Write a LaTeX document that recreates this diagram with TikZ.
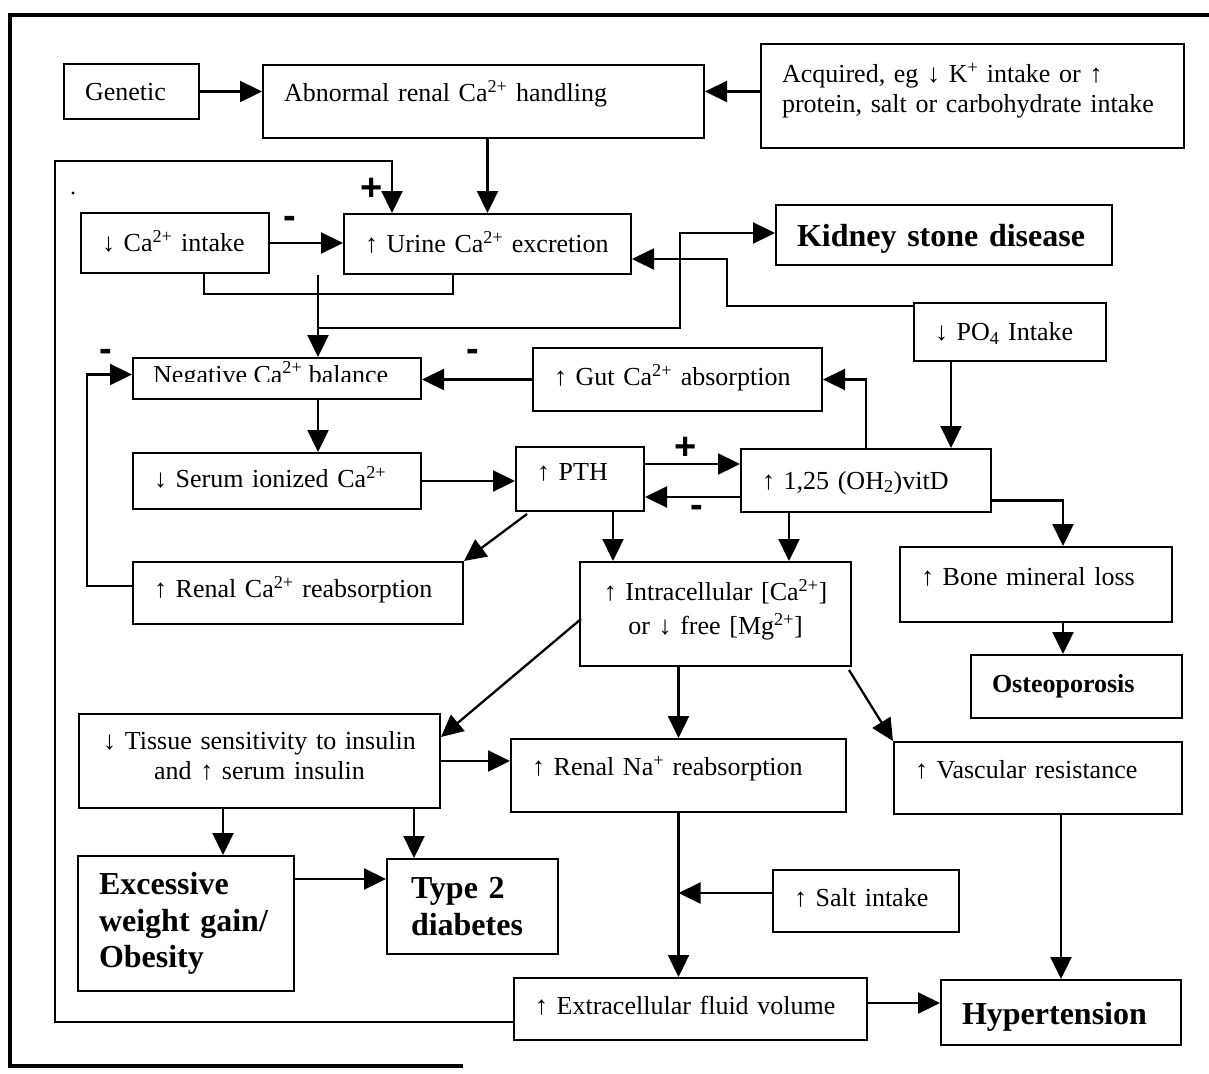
\documentclass[tikz,border=0pt]{standalone}
\usepackage{fontspec}
\setmainfont{Liberation Serif}
\setsansfont{Liberation Sans}
\usetikzlibrary{arrows.meta,calc}
\newcommand{\normtxt}{\fontsize{26}{30}\selectfont}
\newcommand{\bigtxt}{\fontsize{32}{36.5}\selectfont\bfseries}
\newcommand{\osttxt}{\fontsize{26}{30}\selectfont\bfseries}
\newcommand{\signtxt}{\fontsize{38}{38}\selectfont\sffamily\bfseries}
\newcommand{\lowpad}[1]{\rule[-#1]{0pt}{#1}}
\tikzset{
  box/.style={draw, line width=2pt, anchor=north west, inner xsep=21pt, inner ysep=0pt, align=left, font=\normtxt},
  one/.style={text height=22pt, text depth=#1},
  one/.default=5pt,
  big/.style={font=\bigtxt, text height=29pt, text depth=6pt},
  ln/.style={line width=2.3pt},
  arr/.style={line width=2.3pt, -{Triangle[length=22pt,width=21pt]}},
  sign/.style={font=\signtxt, inner sep=0pt}
}
\begin{document}
\begin{tikzpicture}[x=1pt,y=1pt,yscale=-1,xscale=1]
		\useasboundingbox (0,0) rectangle (1209,1073);
		%Shape: Frame
		\draw [line width=4.5pt] (1209,15) -- (10,15) -- (10,1066) -- (463,1066) ;
		%Shape: Dot
		\fill (73,193) circle (1.6) ;

		%Shape: Rectangle
		\node [box, one, text width=93pt, minimum height=55pt] (genetic) at (63,63) {Genetic};
		%Shape: Rectangle
		\node [box, one=22pt, text width=399pt, minimum height=73pt] (abnormal) at (262,64) {Abnormal renal Ca\textsuperscript{2+} handling};
		%Shape: Rectangle
		\node [box, text width=381pt, minimum height=104pt] (acquired) at (760,43) {Acquired, eg ↓ K\textsuperscript{+} intake or ↑\\protein, salt or carbohydrate intake\lowpad{16pt}};
		%Shape: Rectangle
		\node [box, one, text width=146pt, minimum height=60pt] (caintake) at (80,212) {\mbox{↓ Ca\textsuperscript{2+} intake}};
		%Shape: Rectangle
		\node [box, one, text width=245pt, minimum height=60pt] (urine) at (343,213) {\mbox{↑ Urine Ca\textsuperscript{2+} excretion}};
		%Shape: Rectangle
		\node [box, big, text width=294pt, minimum height=60pt] (kidney) at (775,204) {Kidney stone disease};
		%Shape: Rectangle
		\node [box, one, text width=150pt, minimum height=58pt] (po4) at (913,302) {↓ PO\textsubscript{4} Intake};
		%Shape: Rectangle
		\node [box, text width=246pt, minimum height=41pt] (negative) at (132,357) {};
		%Shape: Rectangle
		\node [box, one=10pt, text width=247pt, minimum height=63pt] (gut) at (532,347) {↑ Gut Ca\textsuperscript{2+} absorption};
		%Shape: Rectangle
		\node [box, one=9pt, text width=246pt, minimum height=56pt] (serum) at (132,452) {↓ Serum ionized Ca\textsuperscript{2+}};
		%Shape: Rectangle
		\node [box, one=19pt, text width=86pt, minimum height=64pt] (pth) at (515,446) {↑ PTH};
		%Shape: Rectangle
		\node [box, one, text width=208pt, minimum height=63pt] (vitd) at (740,448) {↑ 1,25 (OH\textsubscript{2})vitD};
		%Shape: Rectangle
		\node [box, one=13pt, text width=288pt, minimum height=62pt] (renalca) at (132,561) {↑ Renal Ca\textsuperscript{2+} reabsorption};
		%Shape: Rectangle
		\node [box, align=center, text width=229pt, minimum height=104pt] (intra) at (579,561) {↑ Intracellular [Ca\textsuperscript{2+}]\\[4pt]or ↓ free [Mg\textsuperscript{2+}]\lowpad{14pt}};
		%Shape: Rectangle
		\node [box, one=20pt, text width=230pt, minimum height=75pt] (bone) at (899,546) {↑ Bone mineral loss};
		%Shape: Rectangle
		\node [box, font=\osttxt, text height=22pt, text depth=9.4pt, text width=169pt, minimum height=63pt] (osteo) at (970,654) {Osteoporosis};
		%Shape: Rectangle
		\node [box, align=center, text width=319pt, minimum height=94pt] (tissue) at (78,713) {\mbox{↓ Tissue sensitivity to insulin}\\and ↑ serum insulin\lowpad{11pt}};
		%Shape: Rectangle
		\node [box, one=22pt, text width=293pt, minimum height=73pt] (renalna) at (510,738) {↑ Renal Na\textsuperscript{+} reabsorption};
		%Shape: Rectangle
		\node [box, one=21pt, text width=246pt, minimum height=72pt] (vascular) at (893,741) {↑ Vascular resistance};
		%Shape: Rectangle
		\node [box, font=\bigtxt, text width=174pt, minimum height=135pt] (obesity) at (77,855) {Excessive\\weight gain/\\Obesity};
		%Shape: Rectangle
		\node [box, font=\bigtxt, inner xsep=0pt, text width=171pt, minimum height=95pt] (type2) at (386,858) {\hspace*{24pt}Type 2\\\hspace*{24pt}diabetes};
		%Shape: Rectangle
		\node [box, one=11pt, text width=144pt, minimum height=62pt] (salt) at (772,869) {↑ Salt intake};
		%Shape: Rectangle
		\node [box, one=11pt, text width=311pt, minimum height=62pt] (extra) at (513,977) {\mbox{↑ Extracellular fluid volume}};
		%Shape: Rectangle
		\node [box, big, text width=198pt, minimum height=65pt] (hyper) at (940,979) {Hypertension};

		% Text Node
		\begin{scope}
		\clip (133,358) rectangle (419,381.5);
		\node [anchor=base west, inner sep=0pt, font=\normtxt] (negtext) at (153,383) {Negative Ca\textsuperscript{2+} balance};
		\end{scope}

		%Straight Lines
		\coordinate (mergeL) at (204,294);
		\coordinate (mergeR) at (453,294);
		\coordinate (mergeM) at (318,294);
		\coordinate (kjoin) at (318,328);
		\coordinate (kbend) at (680,233);
		\coordinate (pbend) at (727,306);
		\coordinate (pvit) at (951,361);
		\coordinate (loopcorner) at (55,161);
		\coordinate (looptop) at (392,161);
		\coordinate (plus) at ($(pth.east)+(0,-15)$);
		\coordinate (minus) at ($(vitd.west)+(0,16.5)$);
		\coordinate (pi) at ($(pth.south)+(33,0)$);
		\coordinate (vi) at ($(vitd.south)+(-77,0)$);
		\coordinate (vb) at ($(bone.north)+(27,0)$);
		\coordinate (tob) at (223,807);
		\coordinate (tt2) at (414,807);
		\coordinate (ot) at ($(obesity.north east)+(0,24)$);
		\coordinate (sl) at ($(salt.west)+(0,-8)$);
		\coordinate (eh) at ($(extra.east)+(0,-6)$);

		\draw [arr] (genetic.east) -- (genetic.east -| abnormal.west) ;
		\draw [arr] (acquired.west |- genetic.east) -- (genetic.east -| abnormal.east) ;
		\draw [arr] (urine.north |- abnormal.south) -- (urine.north) ;
		\draw [arr] (caintake.east) -- (caintake.east -| urine.west) ;
		\draw [ln] (caintake.south -| mergeL) -- (mergeL) -- (mergeR) -- (mergeR |- urine.south) ;
		\draw [arr] (mergeM |- urine.south) -- (mergeM |- negative.north) ;
		\draw [arr] (kjoin) -| (kbend) -- (kbend -| kidney.west) ;
		\draw [arr] (po4.west |- pbend) -- (pbend) |- ($(urine.east)+(0,15)$) ;
		\draw [arr] (pvit) -- (pvit |- vitd.north) ;
		\draw [arr] (vitd.north) |- (gut.east) ;
		\draw [arr] (gut.west) -- (gut.west -| negative.east) ;
		\draw [arr] ($(renalca.west)+(0,-7)$) -- ++(-45,0) |- ($(negative.west)+(0,-4)$) ;
		\draw [arr] (mergeM |- negative.south) -- (mergeM |- serum.north) ;
		\draw [arr] (serum.east) -- (serum.east -| pth.west) ;
		\draw [arr] (plus) -- (plus -| vitd.west) ;
		\draw [arr] (minus) -- (minus -| pth.east) ;
		\draw [arr] ($(pth.south west)+(12,2)$) -- (renalca.north east) ;
		\draw [arr] (pi) -- (pi |- intra.north) ;
		\draw [arr] (vi) -- (vi |- intra.north) ;
		\draw [arr] ($(vitd.east)+(0,20)$) -| (vb) ;
		\draw [arr] (vb |- bone.south) -- (vb |- osteo.north) ;
		\draw [arr] ($(intra.west)+(2,5)$) -- ($(tissue.north east)+(0,24)$) ;
		\draw [arr] (renalna.north |- intra.south) -- (renalna.north) ;
		\draw [arr] ($(intra.south east)+(-3,3)$) -- (vascular.north west) ;
		\draw [arr] (tissue.east) -- (tissue.east -| renalna.west) ;
		\draw [arr] (tob) -- (tob |- obesity.north) ;
		\draw [arr] (tt2) -- (tt2 |- type2.north) ;
		\draw [arr] (ot) -- (ot -| type2.west) ;
		\draw [arr] (renalna.south) -- (renalna.south |- extra.north) ;
		\draw [arr] (sl) -- (sl -| renalna.south) ;
		\draw [arr] (eh) -- (eh -| hyper.west) ;
		\draw [arr] (hyper.north |- vascular.south) -- (hyper.north) ;
		\draw [arr] ($(extra.west)+(0,13)$) -| (loopcorner) -- (looptop) -- (looptop |- urine.north) ;

		% Text Node
		\node [sign] (plusloop) at (372,189) {+};
		% Text Node
		\node [sign] (minusca) at (290,222) {-};
		% Text Node
		\node [sign] (minusleft) at (106,355) {-};
		% Text Node
		\node [sign] (minusgut) at (473,355) {-};
		% Text Node
		\node [sign] (pluspth) at (686,448) {+};
		% Text Node
		\node [sign] (minusvit) at (697,511) {-};
\end{tikzpicture}
\end{document}
